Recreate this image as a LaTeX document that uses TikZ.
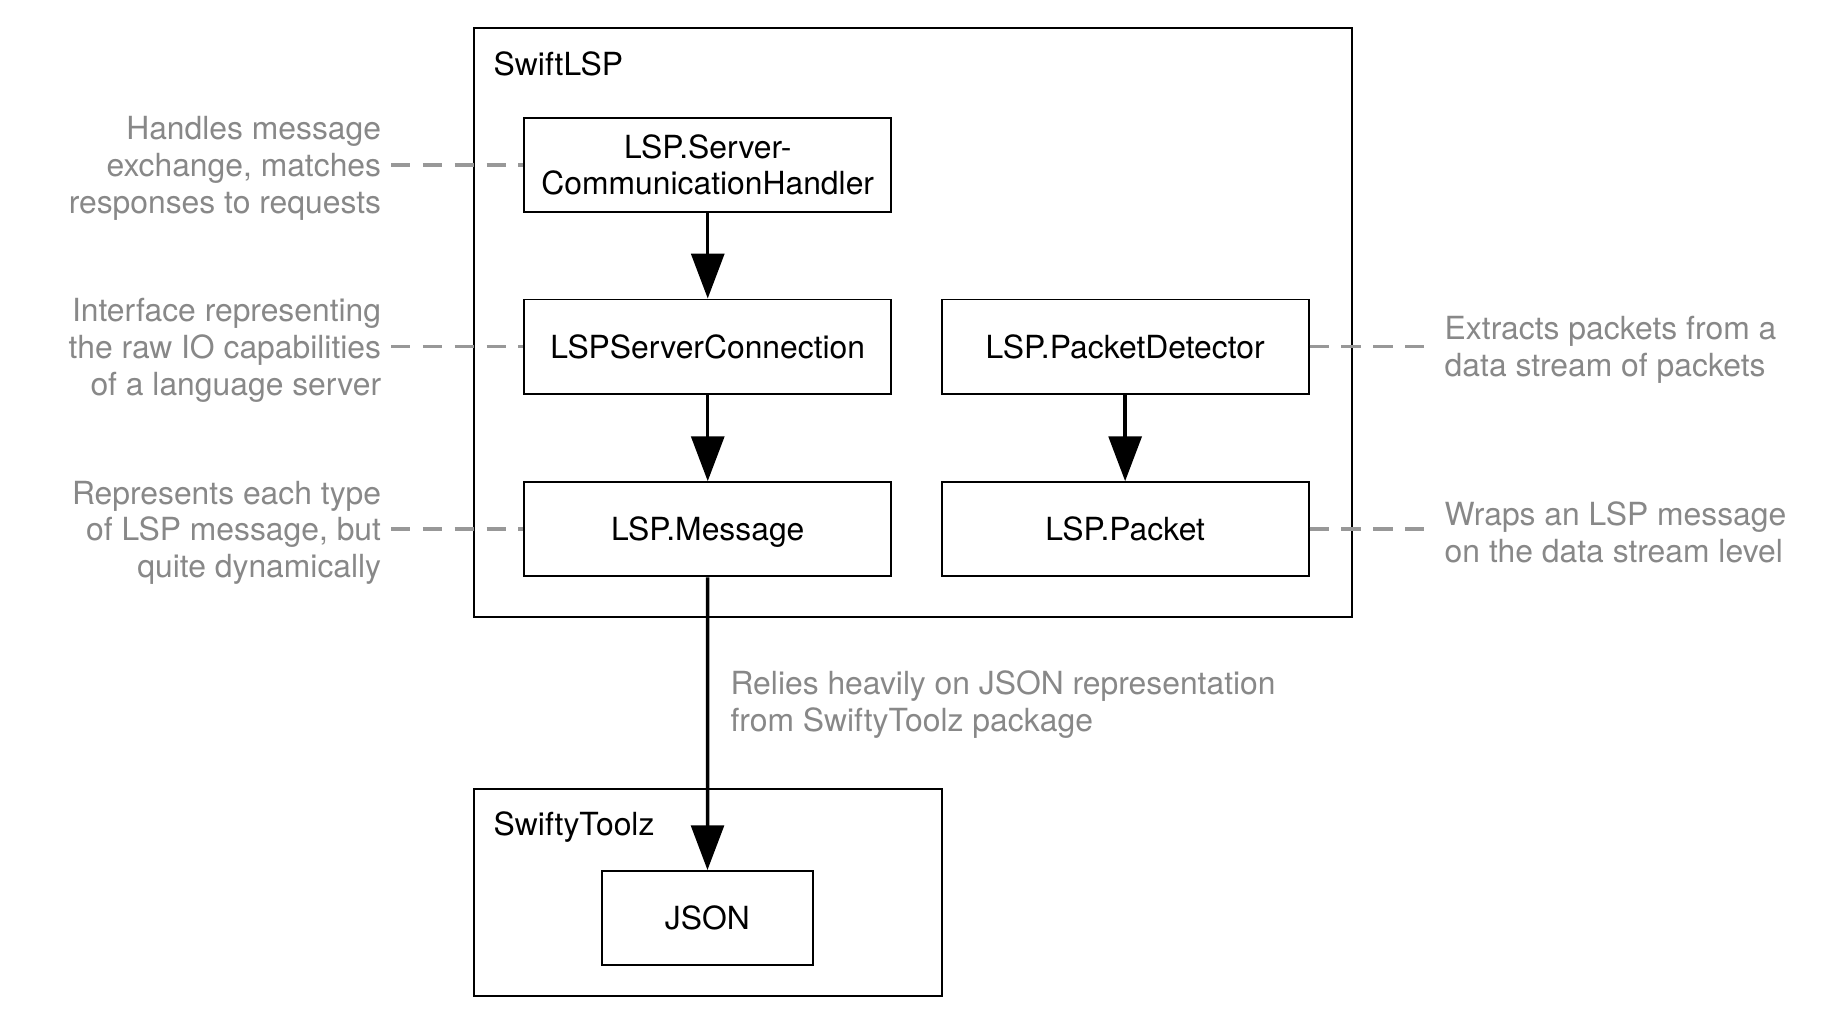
\documentclass[tikz,border=0pt]{standalone}
\usepackage{fontspec}
\setmainfont{TeX Gyre Heros}
\usetikzlibrary{arrows.meta}
\definecolor{textgray}{RGB}{136,136,136}
\definecolor{dashgray}{RGB}{152,152,152}
\begin{document}
\begin{tikzpicture}[x=1pt,y=-1pt,
  every node/.style={font=\fontsize{32}{37}\selectfont},
  compbox/.style={draw, line width=2pt, minimum width=368.6pt, minimum height=94.6pt, inner sep=0pt, align=center},
  groupbox/.style={draw, line width=2pt, inner sep=0pt},
  grouplabel/.style={anchor=base west, inner sep=0pt},
  note/.style={text=textgray, inner sep=0pt, yshift=-3.5pt},
  depends/.style={line width=3.5pt, -{Triangle[length=45pt,width=33pt]}},
  explains/.style={draw=dashgray, line width=3.8pt, dash pattern=on 19.5pt off 12.5pt}
]
\useasboundingbox (0,0) rectangle (1857.3,1029.1);

% group boxes
\node[groupbox, minimum width=883pt, minimum height=591.2pt] (swiftlsp) at (917.5,324) {};
\node[grouplabel] (swiftlsplabel) at (496,76) {SwiftLSP};
\node[groupbox, minimum width=470.5pt, minimum height=208.5pt] (swiftytoolz) at (711.25,896.75) {};
\node[grouplabel] (swiftytoolzlabel) at (496,839.5) {SwiftyToolz};

% component boxes
\node[compbox] (comm) at (711.3,165.8) {LSP.Server-\\CommunicationHandler};
\node[compbox] (conn) at (711.3,348.3) {LSPServerConnection};
\node[compbox, text height=23pt, text depth=0pt] (msg) at (711.3,531.9) {LSP.Message};
\node[compbox] (det) at (1130.8,348.3) {LSP.PacketDetector};
\node[compbox] (pkt) at (1130.8,531.9) {LSP.Packet};
\node[compbox, minimum width=212pt] (json) at (711,922.7) {JSON};

% dependencies
\draw[depends] (comm) -- (conn);
\draw[depends] (conn) -- (msg);
\draw[depends] (det) -- (pkt);
\draw[depends] (msg) -- (json);

% notes
\node[note, align=right, anchor=east, outer xsep=10pt] (ncomm) at (393,165.8) {Handles message\\exchange, matches\\responses to requests};
\node[note, align=right, anchor=east, outer xsep=10pt] (nconn) at (393,348.3) {Interface representing\\the raw IO capabilities\\of a language server};
\node[note, align=right, anchor=east, outer xsep=10pt] (nmsg) at (393,531.9) {Represents each type\\of LSP message, but\\quite dynamically};
\node[note, align=left, anchor=west, outer xsep=21pt] (ndet) at (1431,348.3) {Extracts packets from a\\data stream of packets};
\node[note, align=left, anchor=west, outer xsep=21pt] (npkt) at (1431,531.9) {Wraps an LSP message\\on the data stream level};
\node[note, align=left, anchor=west] (njson) at (734,704.5) {Relies heavily on JSON representation\\from SwiftyToolz package};

\draw[explains] (ncomm.east |- comm.west) -- (comm.west);
\draw[explains] (nconn.east |- conn.west) -- (conn.west);
\draw[explains] (nmsg.east |- msg.west) -- (msg.west);
\draw[explains] (det.east) -- (ndet.west |- det.east);
\draw[explains] (pkt.east) -- (npkt.west |- pkt.east);
\end{tikzpicture}
\end{document}
